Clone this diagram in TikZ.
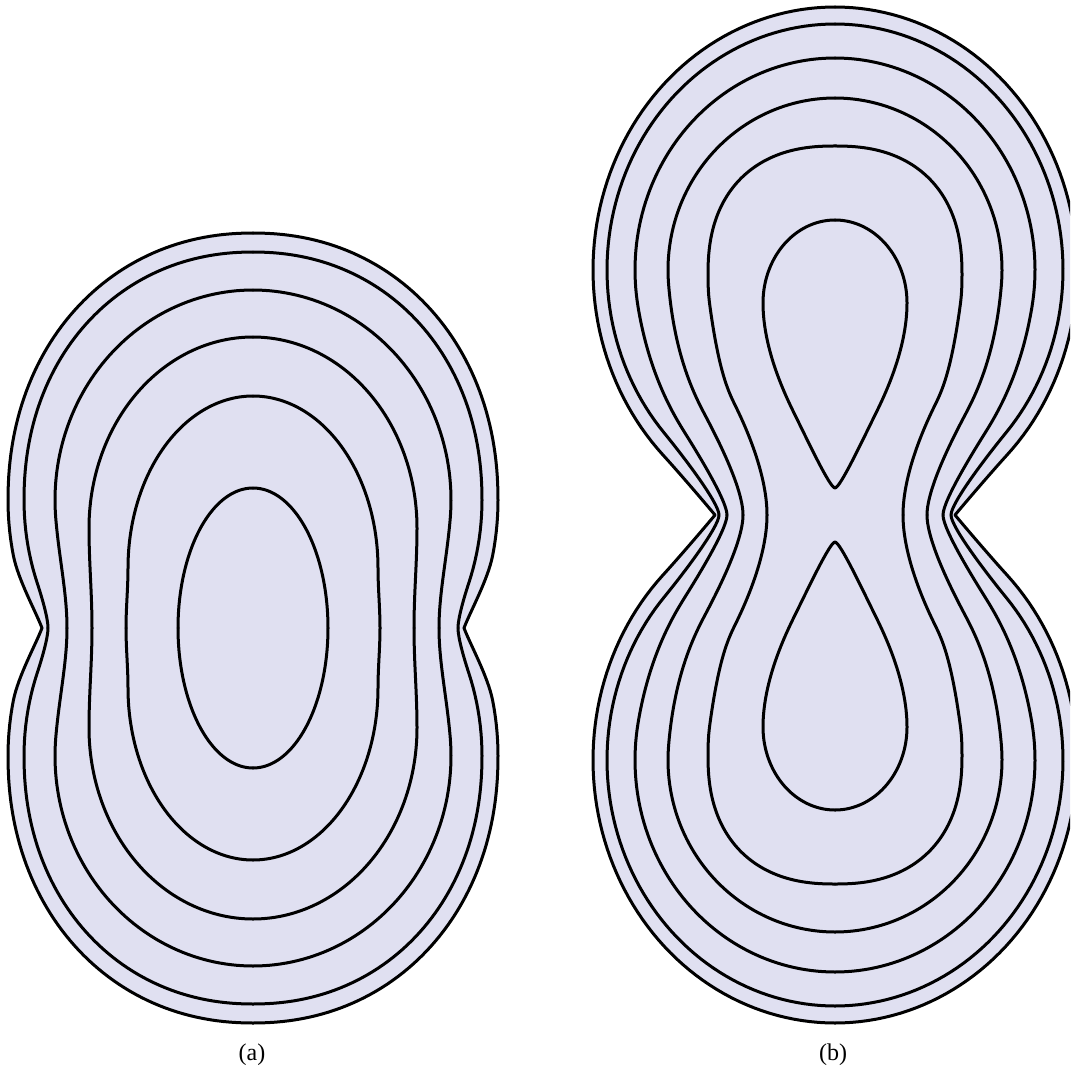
\documentclass[tikz,border=0pt]{standalone}
\usepackage{fontspec}
\setmainfont{Liberation Serif}
\definecolor{lav}{RGB}{224,224,241}
\tikzset{
  lvl/.style={draw=black,line width=1.5pt,line cap=round,line join=round},
  fillq/.style={fill=lav,draw=lav,line width=1pt},
  lbl/.style={font=\fontsize{12}{14}\selectfont}
}
\begin{document}
\begin{tikzpicture}[x=0.5pt,y=-0.5pt]
\useasboundingbox (0,0) rectangle (1070,1075);
\clip (0,0) rectangle (1070,1075);
% ================= fills (outer curves) =================
\foreach \qsx/\qsy in {1/1,-1/1,1/-1,-1/-1}{%
  \begin{scope}[shift={(253,628)},xscale=\qsx,yscale=\qsy]
    \fill[fillq] plot[domain=90:180,samples=60,variable=\t]
      ({245*cos(\t)*(abs(cos(\t))+0.0001)^(-0.05)},{-128-267*sin(\t)*(abs(sin(\t))+0.0001)^(-0.05)})
      -- plot[domain=180:192,samples=10,variable=\t] ({245*cos(\t)},{-128-267*sin(\t)})
      .. controls (-234.8,-48) and (-217,-16) .. (-211,0) -- (0,0) -- cycle;
  \end{scope}
  \begin{scope}[shift={(835,515)},xscale=\qsx,yscale=\qsy]
    \fill[fillq] plot[domain=90:224.7,samples=70,variable=\t] ({242*cos(\t)},{-245-263*sin(\t)})
      .. controls (-158.5,-45.2) and (-135,-18) .. (-120,0) -- (0,0) -- cycle;
  \end{scope}
}
% ================= contour lines =================
\foreach \qsx/\qsy in {1/1,-1/1,1/-1,-1/-1}{%
  % ---------- (a) ----------
  \begin{scope}[shift={(253,628)},xscale=\qsx,yscale=\qsy]
    \draw[lvl] plot[domain=90:180,samples=60,variable=\t]
      ({245*cos(\t)*(abs(cos(\t))+0.0001)^(-0.05)},{-128-267*sin(\t)*(abs(sin(\t))+0.0001)^(-0.05)})
      -- plot[domain=180:192,samples=10,variable=\t] ({245*cos(\t)},{-128-267*sin(\t)})
      .. controls (-234.8,-48) and (-217,-16) .. (-211,0);
    \draw[lvl] plot[domain=90:180,samples=60,variable=\t]
      ({229*cos(\t)*(abs(cos(\t))+0.0001)^(-0.05)},{-128-248*sin(\t)*(abs(sin(\t))+0.0001)^(-0.05)})
      -- plot[domain=180:199.55,samples=12,variable=\t] ({229*cos(\t)},{-128-248*sin(\t)})
      .. controls (-211.1,-30.7) and (-205,-10) .. (-205,0);
    \draw[lvl] plot[domain=90:185,samples=60,variable=\t] ({198*cos(\t)},{-128-210*sin(\t)})
      .. controls (-193.9,-69.8) and (-186,-35) .. (-186,0);
    \draw[lvl] plot[domain=90:180,samples=60,variable=\t] ({164*cos(\t)},{-100-191*sin(\t)})
      .. controls (-164,-65) and (-161,-35) .. (-161,0);
    \draw[lvl] plot[domain=90:180,samples=60,variable=\t] ({125*cos(\t)},{-60-172*sin(\t)})
      .. controls (-125,-40) and (-127,-20) .. (-127,0);
    \draw[lvl] plot[domain=90:180,samples=50,variable=\t] ({75*cos(\t)},{-140*sin(\t)});
  \end{scope}
  % ---------- (b) ----------
  \begin{scope}[shift={(835,515)},xscale=\qsx,yscale=\qsy]
    \draw[lvl] plot[domain=90:224.7,samples=70,variable=\t] ({242*cos(\t)},{-245-263*sin(\t)})
      .. controls (-158.5,-45.2) and (-135,-18) .. (-120,0);
    \draw[lvl] plot[domain=90:221.5,samples=70,variable=\t] ({228*cos(\t)},{-245-246*sin(\t)})
      .. controls (-151.8,-58.8) and (-116,-12) .. (-116,0);
    \draw[lvl] plot[domain=90:190,samples=60,variable=\t] ({200*cos(\t)},{-245-212*sin(\t)})
      .. controls (-185.5,-138.9) and (-160.6,-99) .. (-150,-82)
      .. controls (-139.4,-65) and (-108,-14.7) .. (-108,0);
    \draw[lvl] plot[domain=90:185,samples=60,variable=\t] ({167*cos(\t)},{-245-172*sin(\t)})
      .. controls (-160.3,-157.3) and (-139.3,-117.7) .. (-130,-100)
      .. controls (-120.7,-82.3) and (-92,-28.1) .. (-92,0);
    \draw[lvl] plot[domain=90:190,samples=60,variable=\t]
      ({127*cos(\t)*(abs(cos(\t))+0.0001)^(-0.15)},{-240-129*sin(\t)*(abs(sin(\t))+0.0001)^(-0.15)})
      .. controls (-116.2,-143) and (-106.6,-123.5) .. (-100,-110)
      .. controls (-93.4,-96.5) and (-68,-44.7) .. (-68,0);
    % teardrop half
    \draw[lvl] plot[domain=90:180,samples=50,variable=\t] ({72*cos(\t)},{-212-83*sin(\t)})
      .. controls (-72,-164.9) and (-48.8,-117.9) .. (-40,-100)
      .. controls (-26.7,-73.1) and (-5,-27) .. (0,-27);
  \end{scope}
}
% ================= labels =================
\node[lbl] (la) at (252,1055) {(a)};
\node[lbl] (lb) at (833,1055) {(b)};
\end{tikzpicture}
\end{document}
